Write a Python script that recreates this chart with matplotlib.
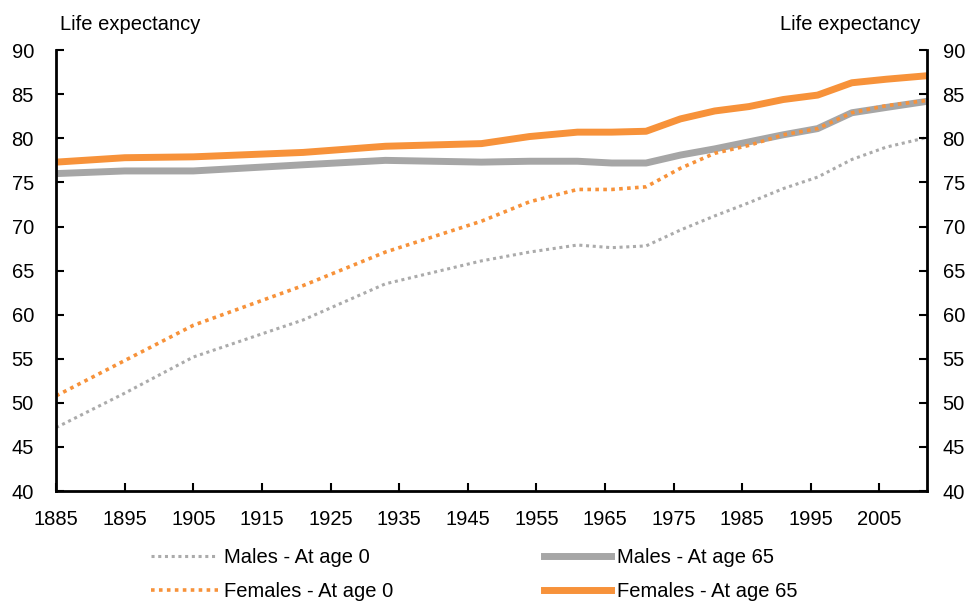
import matplotlib.pyplot as plt

plt.rcParams['font.family'] = ['Liberation Sans', 'DejaVu Sans']

# Life expectancy data (years)
years = [1885, 1895, 1905, 1921, 1933, 1947, 1954, 1961, 1966, 1971,
         1976, 1981, 1986, 1991, 1996, 2001, 2006, 2012]
males_0 = [47.2, 51.1, 55.2, 59.4, 63.5, 66.1, 67.1, 67.9, 67.6, 67.8,
           69.6, 71.2, 72.7, 74.3, 75.6, 77.6, 79.0, 80.1]
females_0 = [50.8, 54.8, 58.8, 63.3, 67.1, 70.6, 72.8, 74.2, 74.2, 74.5,
             76.6, 78.3, 79.2, 80.4, 81.1, 82.9, 83.7, 84.3]
males_65 = [76.0, 76.3, 76.3, 77.0, 77.5, 77.3, 77.4, 77.4, 77.2, 77.2,
            78.1, 78.8, 79.6, 80.4, 81.1, 82.9, 83.5, 84.2]
females_65 = [77.3, 77.8, 77.9, 78.4, 79.1, 79.4, 80.2, 80.7, 80.7, 80.8,
              82.2, 83.1, 83.6, 84.4, 84.9, 86.3, 86.7, 87.1]

xticks = list(range(1885, 2006, 10))
yticks = list(range(40, 91, 5))

orange = '#F7923A'
grey = '#A6A6A6'
fs = 14.5

fig = plt.figure(figsize=(9.68, 6.04), dpi=100)
ax = fig.add_axes([0.058, 0.187, 0.900, 0.730])

l1, = ax.plot(years, males_0, color='#ABABAB', lw=2.2, ls=(0, (1, 1.2)), label='Males - At age 0')
l2, = ax.plot(years, males_65, color=grey, lw=5, label='Males - At age 65')
l3, = ax.plot(years, females_0, color=orange, lw=2.6, ls=(0, (1, 1.2)), label='Females - At age 0')
l4, = ax.plot(years, females_65, color=orange, lw=5, label='Females - At age 65')

ax.set_xlim(1885, 2012)
ax.set_ylim(40, 90)
ax.set_xticks(xticks)
ax.set_yticks(yticks)
ax.tick_params(axis='x', direction='in', length=6, width=1.5, labelsize=fs, pad=14)
ax.tick_params(axis='y', direction='in', length=6, width=1.5, labelsize=fs, pad=16)
for s in ['left', 'bottom']:
    ax.spines[s].set_linewidth(2)
ax.spines['top'].set_visible(False)
ax.spines['right'].set_visible(False)

ax2 = ax.twinx()
ax2.set_ylim(40, 90)
ax2.set_yticks(yticks)
ax2.tick_params(axis='y', direction='in', length=6, width=1.5, labelsize=fs, pad=11)
ax2.spines['right'].set_linewidth(2)
ax2.spines['top'].set_visible(False)
ax2.spines['left'].set_visible(False)
ax2.spines['bottom'].set_visible(False)

fig.text(0.062, 0.96, 'Life expectancy', fontsize=fs, ha='left', va='center')
fig.text(0.951, 0.96, 'Life expectancy', fontsize=fs, ha='right', va='center')

fig.legend(handles=[l1, l3, l2, l4], loc='lower center', ncol=2,
           bbox_to_anchor=(0.49, -0.025), frameon=False, fontsize=fs,
           handlelength=3.3, handletextpad=0.3, columnspacing=7.5,
           labelspacing=0.75)

fig.savefig('out.png', dpi=100)
